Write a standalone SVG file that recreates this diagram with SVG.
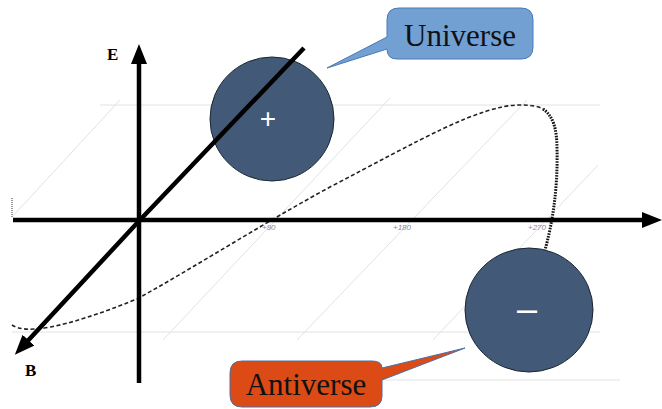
<svg xmlns="http://www.w3.org/2000/svg" width="662" height="409" viewBox="0 0 662 409">
<style>
.grid{stroke:#e2e2e2;stroke-width:1;fill:none}
.axis{stroke:#000;stroke-width:4.5;fill:none}
.curve{stroke:#222;stroke-width:1.6;fill:none;stroke-dasharray:4 2.5}
.curve2{stroke:#111;stroke-width:3;fill:none;stroke-dasharray:1.6 1.2}
.ball{fill:#425a77;stroke:#1a2633;stroke-width:1}
.sign{font-family:"Liberation Sans",Arial,sans-serif;fill:#fff;text-anchor:middle}
.call{font-family:"Liberation Serif","Times New Roman",serif;font-size:31px;fill:#111;text-anchor:middle}
.axlab{font-family:"Liberation Serif","Times New Roman",serif;font-size:17px;font-weight:bold;fill:#000}
.tick{font-family:"Liberation Sans",Arial,sans-serif;font-size:8px;font-style:italic;fill:#888}
</style>
<defs>
<marker id="arr" markerUnits="userSpaceOnUse" markerWidth="24" markerHeight="18" refX="8" refY="8" orient="auto">
<path d="M0,0 L20,8 L0,16 Z" fill="#000"/>
</marker>
</defs>
<rect width="662" height="409" fill="#fff"/>
<g id="grid">
<line class="grid" x1="100" y1="105" x2="600" y2="105"/>
<line class="grid" x1="12" y1="332" x2="600" y2="332"/>
<line class="grid" x1="385" y1="380" x2="620" y2="380"/>
<line class="grid" x1="12" y1="217" x2="120" y2="100"/>
<line class="grid" x1="163" y1="340" x2="390" y2="98"/>
<line class="grid" x1="297" y1="340" x2="527" y2="100"/>
<line class="grid" x1="433" y1="340" x2="598" y2="165"/>
<line x1="12" y1="198" x2="12" y2="217" stroke="#777" stroke-width="1.5" stroke-dasharray="1 1"/>
</g>
<g id="ticks">
<text class="tick" x="262" y="230">+90</text>
<text class="tick" x="393" y="230">+180</text>
<text class="tick" x="528" y="230">+270</text>
</g>
<g id="curve">
<path class="curve" d="M12,325 C25,334 60,330 137,299 C200,264 262,224 330,187 C420,140 480,105 520,105 C530,105 538,106 543,109"/>
<path class="curve2" d="M543,109 C553,116 557,128 557,150 C558,190 552,225 545,250"/>
</g>
<g id="node-universe">
<circle class="ball" cx="272" cy="119" r="62"/>
<text class="sign" x="268" y="128" font-size="28">+</text>
</g>
<g id="node-antiverse">
<ellipse class="ball" cx="529" cy="310" rx="64" ry="62"/>
<text class="sign" x="527" y="321" font-size="36">–</text>
</g>
<g id="connectors">
<line class="axis" x1="13" y1="220" x2="650" y2="220" marker-end="url(#arr)"/>
<line class="axis" x1="139" y1="383" x2="139" y2="56" marker-end="url(#arr)"/>
<path class="axis" d="M304,48 L139,221 L23,346" marker-end="url(#arr)"/>
</g>
<g id="axis-labels">
<text class="axlab" x="107" y="60">E</text>
<text class="axlab" x="25" y="376">B</text>
</g>
<g id="callout-universe">
<path d="M399,8 H521 Q533,8 533,20 V47 Q533,59 521,59 H397 Q387,59 387,49 L327,68 L387,37 V20 Q387,8 399,8 Z" fill="#72a0d3" stroke="#4a78b5" stroke-width="1"/>
<text class="call" x="460" y="46">Universe</text>
</g>
<g id="callout-antiverse">
<path d="M242,361 H372 Q382,361 382,368 L465,348 L382,380 V396 Q382,407 370,407 H242 Q230,407 230,395 V373 Q230,361 242,361 Z" fill="#dc4a15" stroke="#4a6fa8" stroke-width="1"/>
<text class="call" x="306" y="395">Antiverse</text>
</g>
</svg>
